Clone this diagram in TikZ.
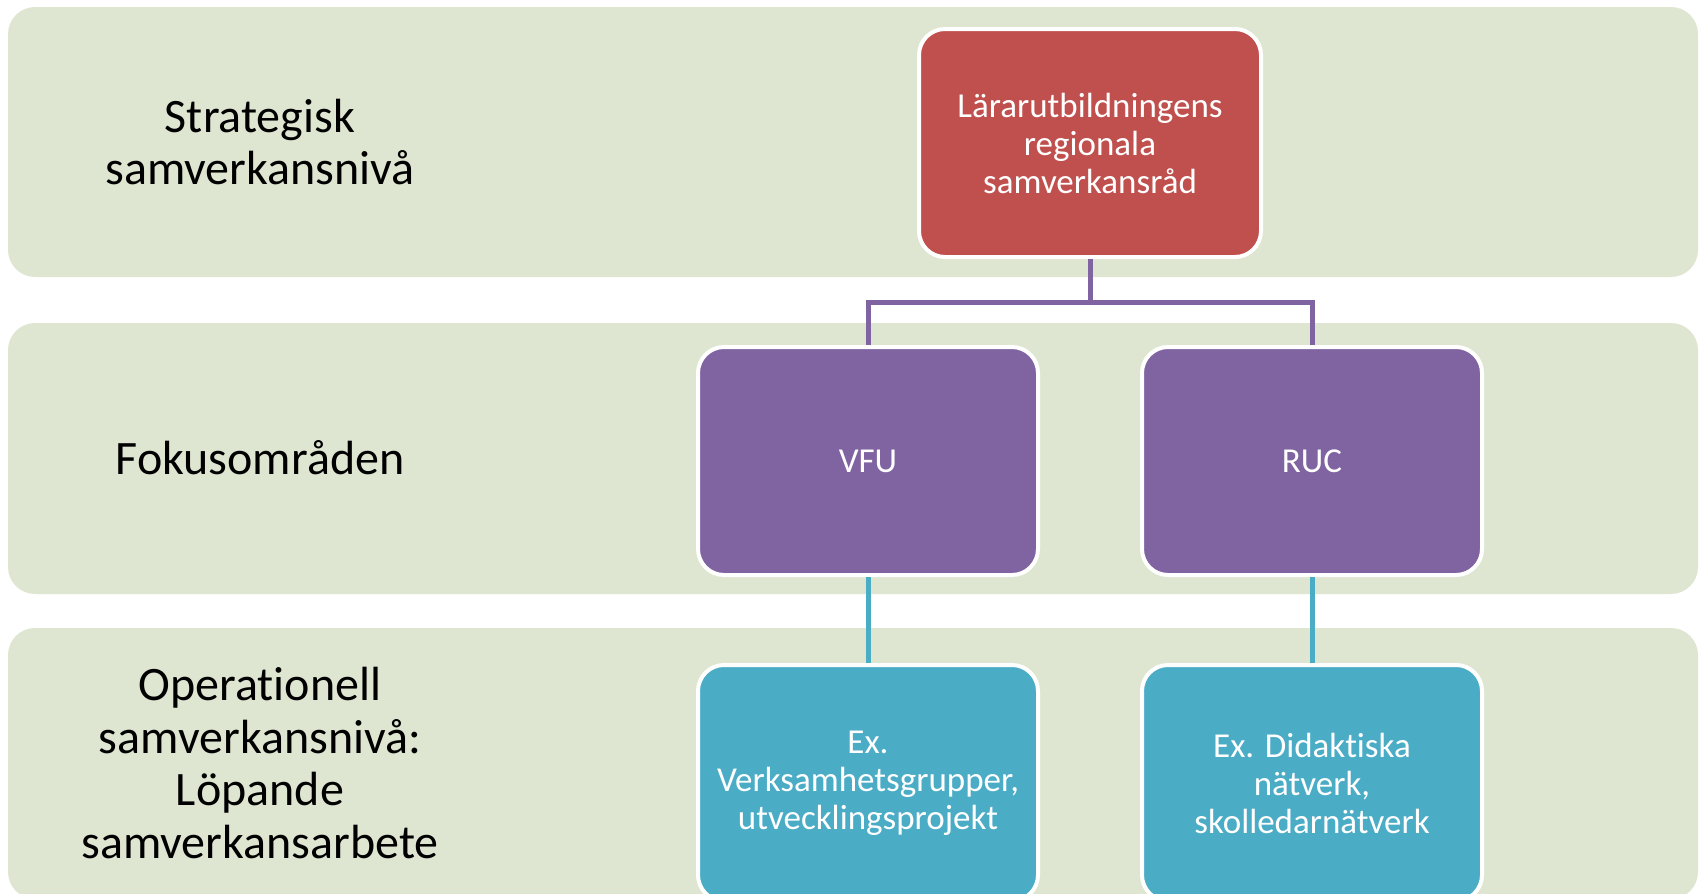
\documentclass[tikz,border=0pt]{standalone}
\usepackage{fontspec}
\setmainfont{Carlito}[Ligatures=NoCommon]
\definecolor{bandgreen}{HTML}{DEE6D1}
\definecolor{boxred}{HTML}{C0504D}
\definecolor{boxpurple}{HTML}{8064A2}
\definecolor{boxteal}{HTML}{4BACC6}
\tikzset{
  band/.style={fill=bandgreen, draw=none, rounded corners=27pt},
  levellabel/.style={align=center, font=\fontsize{48}{52.5}\selectfont, text=black, inner sep=0pt},
  orgbox/.style={draw=white, line width=4pt, rounded corners=26pt, minimum width=340pt, minimum height=228pt,
    align=center, text=white, font=\fontsize{35}{38}\selectfont, inner sep=0pt},
  pline/.style={draw=boxpurple, line width=5pt},
  tline/.style={draw=boxteal, line width=5pt},
}
\begin{document}
\begin{tikzpicture}[x=1pt,y=-1pt]
\useasboundingbox (0,0) rectangle (1701,894);
\clip (0,0) rectangle (1701,894);
% bands
\path[band] (8,7) rectangle (1698,277);
\path[band] (8,323) rectangle (1698,594);
\path[band] (8,628) rectangle (1698,899);
% level labels
\node[levellabel] (l1) at (260,142) {Strategisk\\samverkansnivå};
\node[levellabel] (l2) at (260,458) {Fokusområden};
\node[levellabel] (l3) at (260,763) {Operationell\\samverkansnivå:\\Löpande\\samverkansarbete};
% boxes
\node[orgbox, fill=boxred, minimum width=342pt] (rad) at (1090,143) {Lärarutbildningens\\regionala\\samverkansråd};
\node[orgbox, fill=boxpurple] (vfu) at (868,461) {VFU};
\node[orgbox, fill=boxpurple] (ruc) at (1312,461) {RUC};
\node[orgbox, fill=boxteal, minimum height=236pt] (ex1) at (868,783) {Ex.\\Verksamhetsgrupper,\\utvecklingsprojekt};
\node[orgbox, fill=boxteal, minimum height=236pt] (ex2) at (1312,783) {Ex. Didaktiska\\nätverk,\\skolledarnätverk};
% connectors
\coordinate (mid) at (1090,302);
\draw[pline] (rad.south) -- (mid) -| (vfu.north);
\draw[pline] (mid) -| (ruc.north);
\draw[tline] (vfu.south) -- (ex1.north);
\draw[tline] (ruc.south) -- (ex2.north);
\end{tikzpicture}
\end{document}
